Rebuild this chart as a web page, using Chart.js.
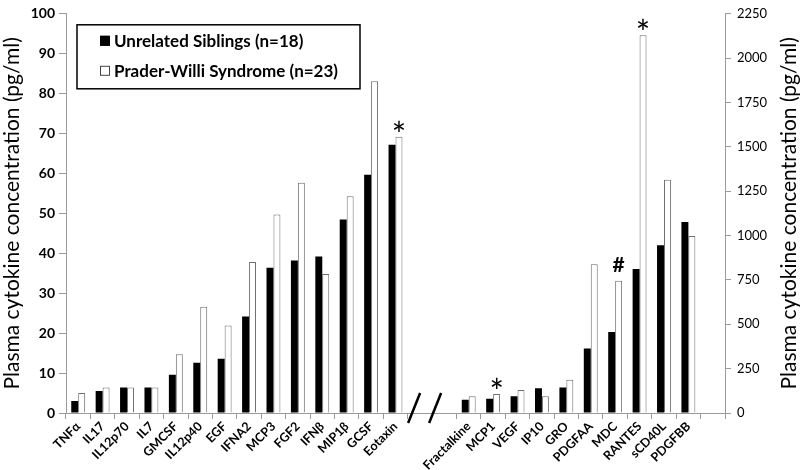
<!DOCTYPE html>
<html>
<head>
<meta charset="utf-8">
<script src="https://cdn.jsdelivr.net/npm/chart.js@4.4.1/dist/chart.umd.min.js"></script>
<style>
  html, body { margin: 0; padding: 0; background: #fff; }
  #wrap { width: 800px; height: 470px; }
</style>
</head>
<body>
<div id="wrap"><canvas id="chart"></canvas></div>
<script>
// valores (pg/ml)
const leftLabels = ['TNFα', 'IL17', 'IL12p70', 'IL7', 'GMCSF', 'IL12p40', 'EGF', 'IFNA2', 'MCP3', 'FGF2', 'IFNβ', 'MIP1β', 'GCSF', 'Eotaxin'];
const rightLabels = ['Fractalkine', 'MCP1', 'VEGF', 'IP10', 'GRO', 'PDGFAA', 'MDC', 'RANTES', 'sCD40L', 'PDGFBB'];
const siblingsLeft = [3.0, 5.5, 6.4, 6.4, 9.6, 12.6, 13.6, 24.2, 36.4, 38.2, 39.2, 48.5, 59.7, 67.2];
const pwsLeft = [5.0, 6.4, 6.4, 6.4, 14.7, 26.6, 21.9, 37.8, 49.7, 57.7, 34.8, 54.3, 83.1, 69.2];
const siblingsRight = [74, 80, 94, 139, 144, 363, 456, 811, 946, 1077];
const pwsRight = [94, 107, 130, 94, 187, 839, 746, 2129, 1314, 997];
const leftTicks = [0, 10, 20, 30, 40, 50, 60, 70, 80, 90, 100];
const rightTicks = [0, 250, 500, 750, 1000, 1250, 1500, 1750, 2000, 2250];
const marks = [['Eotaxin', '*'], ['MCP1', '*'], ['MDC', '#'], ['RANTES', '*']];
const seriesNames = ['Unrelated Siblings (n=18)', 'Prader-Willi Syndrome (n=23)'];
const axisTitle = 'Plasma cytokine concentration (pg/ml)';

const GAP = 2;   // categorias vacias entre los dos grupos (corte //)
const labels = [...leftLabels, ...Array(GAP).fill(''), ...rightLabels, ''];
const rightStart = leftLabels.length + GAP;

const pad = (vals, before) => {
    const out = Array(labels.length).fill(null);
    vals.forEach((v, i) => { out[before + i] = v; });
    return out;
};

const FONT = 'Lato';
const grey = '#9a9a9a';

const blackBar = { backgroundColor: '#000', borderColor: '#000', borderWidth: 0 };
const whiteBar = { backgroundColor: '#fff', borderColor: '#6f6f6f', borderWidth: 1 };

const extras = {
    id: 'extras',
    afterDraw(chart) {
        const { ctx, chartArea } = chart;
        ctx.save();

        // leyenda con recuadro
        const lx = chartArea.left + 11, ly = chartArea.top + 11;
        ctx.strokeStyle = '#000';
        ctx.lineWidth = 1.5;
        ctx.strokeRect(lx, ly, 283, 64);
        ctx.font = 'bold 17px ' + FONT;
        ctx.textBaseline = 'middle';
        ctx.textAlign = 'left';
        [blackBar, whiteBar].forEach((st, i) => {
            const cy = ly + 16 + i * 30;
            ctx.fillStyle = st.backgroundColor;
            ctx.fillRect(lx + 23, cy - 5, 10, 10);
            ctx.strokeStyle = i ? '#444' : '#000';
            ctx.lineWidth = 1;
            ctx.strokeRect(lx + 23.5, cy - 4.5, 9, 9);
            ctx.fillStyle = '#000';
            ctx.fillText(seriesNames[i], lx + 37, cy + 1);
        });

        // marcas de significancia sobre las barras blancas
        marks.forEach(([name, sym]) => {
            let idx = leftLabels.indexOf(name), ds = 1;
            if (idx < 0) { idx = rightStart + rightLabels.indexOf(name); ds = 3; }
            const bar = chart.getDatasetMeta(ds).data[idx];
            ctx.fillStyle = '#000';
            ctx.textAlign = 'center';
            ctx.textBaseline = 'alphabetic';
            if (sym === '*') {
                ctx.font = '34px ' + FONT;
                ctx.fillText(sym, bar.x, bar.y + 10);
            } else {
                ctx.font = 'bold 21px ' + FONT;
                ctx.fillText(sym, bar.x, bar.y - 9);
            }
        });

        // corte // en el eje x
        const xs = chart.scales.x;
        const mid = (xs.getPixelForValue(leftLabels.length) + xs.getPixelForValue(leftLabels.length + 1)) / 2;
        ctx.strokeStyle = '#000';
        ctx.lineWidth = 2.5;
        [mid - 18, mid + 3].forEach(cx => {
            ctx.beginPath();
            ctx.moveTo(cx - 6, chartArea.bottom + 10);
            ctx.lineTo(cx + 6, chartArea.bottom - 20);
            ctx.stroke();
        });

        // titulo del eje derecho (lee de abajo hacia arriba)
        ctx.font = '21px ' + FONT;
        ctx.fillStyle = '#000';
        ctx.textAlign = 'center';
        ctx.textBaseline = 'middle';
        ctx.translate(789, (chartArea.top + chartArea.bottom) / 2);
        ctx.rotate(-Math.PI / 2);
        ctx.fillText(axisTitle, 0, 0);
        ctx.restore();
    }
};

const ctx = document.getElementById('chart').getContext('2d');
new Chart(ctx, {
    type: 'bar',
    data: {
        labels: labels,
        datasets: [
            { label: seriesNames[0], data: pad(siblingsLeft, 0), yAxisID: 'y', ...blackBar },
            { label: seriesNames[1], data: pad(pwsLeft, 0), yAxisID: 'y', ...whiteBar },
            { label: seriesNames[0], data: pad(siblingsRight, rightStart), yAxisID: 'y1', ...blackBar },
            { label: seriesNames[1], data: pad(pwsRight, rightStart), yAxisID: 'y1', ...whiteBar },
        ],
    },
    options: {
        responsive: true,
        maintainAspectRatio: false,
        animation: false,
        layout: { padding: 0 },
        datasets: {
            bar: { skipNull: true, categoryPercentage: 0.57, barPercentage: 1 },
        },
        plugins: {
            legend: { display: false },
            tooltip: { enabled: false },
        },
        scales: {
            x: {
                offset: true,
                grid: {
                    offset: true,
                    drawOnChartArea: false,
                    tickLength: 6,
                    color: c => (c.index === leftLabels.length + 1 ? 'rgba(0,0,0,0)' : grey),
                },
                border: { color: grey },
                ticks: {
                    autoSkip: false,
                    minRotation: 45,
                    maxRotation: 45,
                    padding: 0,
                    color: '#000',
                    font: { family: FONT, weight: 'bold', size: 12.5 },
                },
                afterFit: s => { s.height = 57; },
            },
            y: {
                position: 'left',
                min: 0,
                max: 100,
                afterBuildTicks: s => { s.ticks = leftTicks.map(v => ({ value: v })); },
                grid: { drawOnChartArea: false, tickLength: 7, color: grey },
                border: { color: grey },
                ticks: {
                    padding: 4,
                    color: '#000',
                    font: { family: FONT, weight: 'bold', size: 14 },
                },
                title: {
                    display: true,
                    text: axisTitle,
                    color: '#000',
                    padding: 0,
                    font: { family: FONT, size: 21 },
                },
                afterFit: s => { s.width = 66; },
            },
            y1: {
                position: 'right',
                min: 0,
                max: 2250,
                afterBuildTicks: s => { s.ticks = rightTicks.map(v => ({ value: v })); },
                grid: { drawOnChartArea: false, tickLength: 6, color: grey },
                border: { color: grey },
                ticks: {
                    padding: 6,
                    color: '#000',
                    font: { family: FONT, size: 13 },
                    callback: v => String(v),
                },
                afterFit: s => { s.width = 75; },
            },
        },
    },
    plugins: [extras],
});
</script>
</body>
</html>
